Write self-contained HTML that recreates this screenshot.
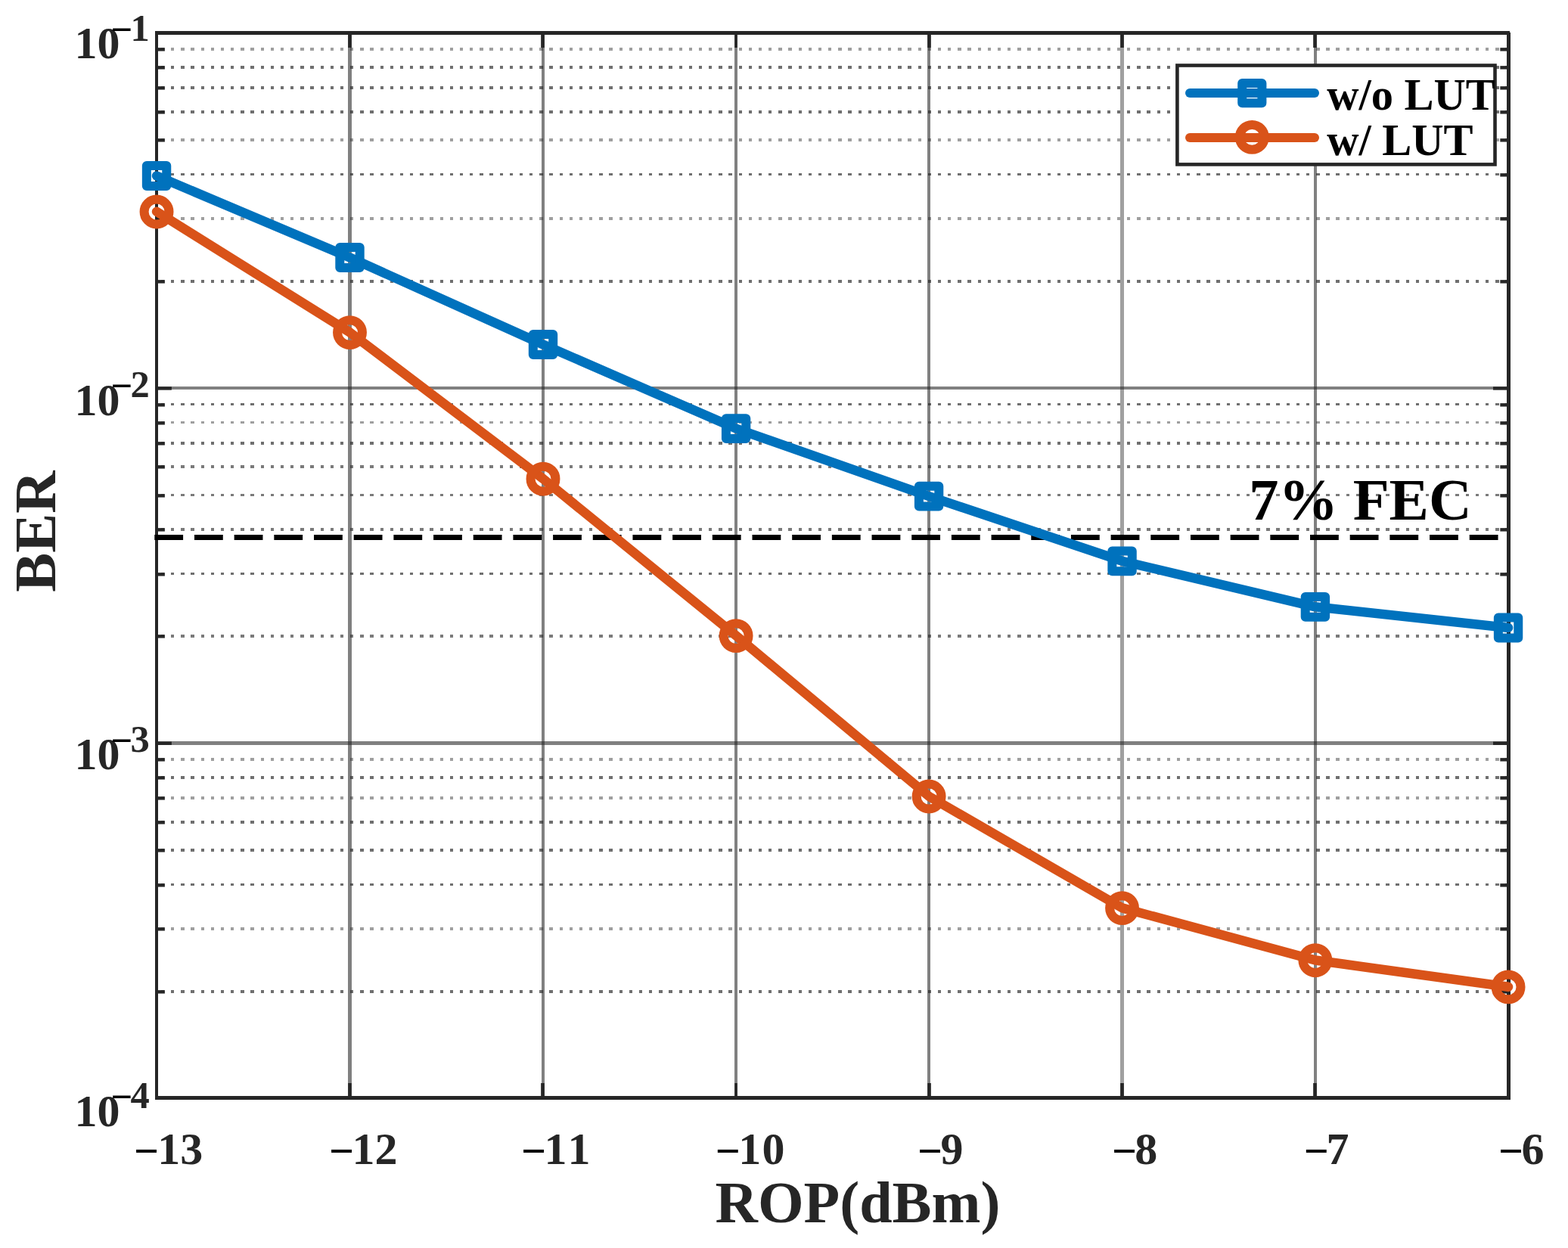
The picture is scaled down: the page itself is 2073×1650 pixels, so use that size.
<!DOCTYPE html>
<html lang="en"><head><meta charset="utf-8"><title>BER vs ROP</title>
<style>html,body{margin:0;padding:0;background:#fff;}body{width:2073px;height:1650px;overflow:hidden;}svg{display:block;}text{font-family:"Liberation Serif",serif;font-weight:bold;font-kerning:none;}.t{font-size:60px;fill:#262626;}.s{font-size:50.5px;fill:#262626;}.l{font-size:78px;fill:#262626;}.g{font-size:58.5px;fill:#000;}.f{font-size:78.5px;fill:#000;}.m{font-size:58px;fill:#000;}.n{font-size:50.5px;fill:#000;}</style></head><body>
<svg width="2073" height="1650" viewBox="0 0 2073 1650">
<rect width="2073" height="1650" fill="#fff"/>
<g shape-rendering="crispEdges" fill="#262626">
<rect x="460" y="44" width="5" height="1407" fill-opacity="0.585"/>
<rect x="716" y="44" width="4" height="1407" fill-opacity="0.585"/>
<rect x="971" y="44" width="4" height="1407" fill-opacity="0.585"/>
<rect x="1226" y="44" width="4" height="1407" fill-opacity="0.585"/>
<rect x="1481" y="44" width="5" height="1407" fill-opacity="0.438"/>
<rect x="1737" y="44" width="4" height="1407" fill-opacity="0.585"/>
<rect x="207" y="511" width="1787" height="4" fill-opacity="0.585"/>
<rect x="207" y="980" width="1787" height="5" fill-opacity="0.585"/>
</g>
<g fill="none" stroke="#262626" stroke-dasharray="4.39 8.776" shape-rendering="crispEdges">
<line x1="212.9" y1="65.0" x2="1994.5" y2="65.0" stroke-opacity="0.442" stroke-width="4"/>
<line x1="212.9" y1="89.0" x2="1994.5" y2="89.0" stroke-opacity="0.664" stroke-width="4"/>
<line x1="212.9" y1="116.0" x2="1994.5" y2="116.0" stroke-opacity="0.664" stroke-width="4"/>
<line x1="212.9" y1="148.0" x2="1994.5" y2="148.0" stroke-opacity="0.664" stroke-width="4"/>
<line x1="212.9" y1="185.0" x2="1994.5" y2="185.0" stroke-opacity="0.442" stroke-width="4"/>
<line x1="212.9" y1="230.5" x2="1994.5" y2="230.5" stroke-opacity="0.664" stroke-width="3"/>
<line x1="212.9" y1="289.0" x2="1994.5" y2="289.0" stroke-opacity="0.442" stroke-width="4"/>
<line x1="212.9" y1="372.0" x2="1994.5" y2="372.0" stroke-opacity="0.664" stroke-width="4"/>
<line x1="212.9" y1="534.5" x2="1994.5" y2="534.5" stroke-opacity="0.664" stroke-width="3"/>
<line x1="212.9" y1="558.5" x2="1994.5" y2="558.5" stroke-opacity="0.442" stroke-width="3"/>
<line x1="212.9" y1="586.0" x2="1994.5" y2="586.0" stroke-opacity="0.664" stroke-width="4"/>
<line x1="212.9" y1="617.0" x2="1994.5" y2="617.0" stroke-opacity="0.613" stroke-width="4"/>
<line x1="212.9" y1="654.5" x2="1994.5" y2="654.5" stroke-opacity="0.613" stroke-width="3"/>
<line x1="212.9" y1="700.0" x2="1994.5" y2="700.0" stroke-opacity="0.613" stroke-width="4"/>
<line x1="212.9" y1="758.5" x2="1994.5" y2="758.5" stroke-opacity="0.664" stroke-width="3"/>
<line x1="212.9" y1="841.0" x2="1994.5" y2="841.0" stroke-opacity="0.613" stroke-width="4"/>
<line x1="212.9" y1="1004.0" x2="1994.5" y2="1004.0" stroke-opacity="0.442" stroke-width="4"/>
<line x1="212.9" y1="1028.0" x2="1994.5" y2="1028.0" stroke-opacity="0.664" stroke-width="4"/>
<line x1="212.9" y1="1055.0" x2="1994.5" y2="1055.0" stroke-opacity="0.442" stroke-width="4"/>
<line x1="212.9" y1="1087.0" x2="1994.5" y2="1087.0" stroke-opacity="0.664" stroke-width="4"/>
<line x1="212.9" y1="1124.0" x2="1994.5" y2="1124.0" stroke-opacity="0.664" stroke-width="4"/>
<line x1="212.9" y1="1169.5" x2="1994.5" y2="1169.5" stroke-opacity="0.664" stroke-width="3"/>
<line x1="212.9" y1="1228.0" x2="1994.5" y2="1228.0" stroke-opacity="0.442" stroke-width="4"/>
<line x1="212.9" y1="1311.0" x2="1994.5" y2="1311.0" stroke-opacity="0.664" stroke-width="4"/>
</g>
<g fill="none" stroke="#262626" stroke-width="4.42">
<line x1="462.5" y1="1451.5" x2="462.5" y2="1432" stroke-width="4.7"/>
<line x1="462.5" y1="43.5" x2="462.5" y2="63" stroke-width="4.7"/>
<line x1="717.5" y1="1451.5" x2="717.5" y2="1432" stroke-width="4.7"/>
<line x1="717.5" y1="43.5" x2="717.5" y2="63" stroke-width="4.7"/>
<line x1="973.0" y1="1451.5" x2="973.0" y2="1432" stroke-width="3.7"/>
<line x1="973.0" y1="43.5" x2="973.0" y2="63" stroke-width="3.7"/>
<line x1="1228.5" y1="1451.5" x2="1228.5" y2="1432" stroke-width="4.7"/>
<line x1="1228.5" y1="43.5" x2="1228.5" y2="63" stroke-width="4.7"/>
<line x1="1483.5" y1="1451.5" x2="1483.5" y2="1432" stroke-width="4.7"/>
<line x1="1483.5" y1="43.5" x2="1483.5" y2="63" stroke-width="4.7"/>
<line x1="1738.5" y1="1451.5" x2="1738.5" y2="1432" stroke-width="4.7"/>
<line x1="1738.5" y1="43.5" x2="1738.5" y2="63" stroke-width="4.7"/>
<line x1="207.0" y1="513.45" x2="226.9" y2="513.45"/>
<line x1="1994.5" y1="513.45" x2="1974.0" y2="513.45"/>
<line x1="207.0" y1="982.75" x2="226.9" y2="982.75"/>
<line x1="1994.5" y1="982.75" x2="1974.0" y2="982.75"/>
<line x1="207.0" y1="65.35" x2="217.9" y2="65.35"/>
<line x1="1994.5" y1="65.35" x2="1983.3" y2="65.35"/>
<line x1="207.0" y1="89.35" x2="217.9" y2="89.35"/>
<line x1="1994.5" y1="89.35" x2="1983.3" y2="89.35"/>
<line x1="207.0" y1="116.35" x2="217.9" y2="116.35"/>
<line x1="1994.5" y1="116.35" x2="1983.3" y2="116.35"/>
<line x1="207.0" y1="148.35" x2="217.9" y2="148.35"/>
<line x1="1994.5" y1="148.35" x2="1983.3" y2="148.35"/>
<line x1="207.0" y1="185.35" x2="217.9" y2="185.35"/>
<line x1="1994.5" y1="185.35" x2="1983.3" y2="185.35"/>
<line x1="207.0" y1="231.35" x2="217.9" y2="231.35"/>
<line x1="1994.5" y1="231.35" x2="1983.3" y2="231.35"/>
<line x1="207.0" y1="289.35" x2="217.9" y2="289.35"/>
<line x1="1994.5" y1="289.35" x2="1983.3" y2="289.35"/>
<line x1="207.0" y1="372.35" x2="217.9" y2="372.35"/>
<line x1="1994.5" y1="372.35" x2="1983.3" y2="372.35"/>
<line x1="207.0" y1="535.35" x2="217.9" y2="535.35"/>
<line x1="1994.5" y1="535.35" x2="1983.3" y2="535.35"/>
<line x1="207.0" y1="559.35" x2="217.9" y2="559.35"/>
<line x1="1994.5" y1="559.35" x2="1983.3" y2="559.35"/>
<line x1="207.0" y1="586.35" x2="217.9" y2="586.35"/>
<line x1="1994.5" y1="586.35" x2="1983.3" y2="586.35"/>
<line x1="207.0" y1="617.35" x2="217.9" y2="617.35"/>
<line x1="1994.5" y1="617.35" x2="1983.3" y2="617.35"/>
<line x1="207.0" y1="655.35" x2="217.9" y2="655.35"/>
<line x1="1994.5" y1="655.35" x2="1983.3" y2="655.35"/>
<line x1="207.0" y1="700.35" x2="217.9" y2="700.35"/>
<line x1="1994.5" y1="700.35" x2="1983.3" y2="700.35"/>
<line x1="207.0" y1="759.35" x2="217.9" y2="759.35"/>
<line x1="1994.5" y1="759.35" x2="1983.3" y2="759.35"/>
<line x1="207.0" y1="841.35" x2="217.9" y2="841.35"/>
<line x1="1994.5" y1="841.35" x2="1983.3" y2="841.35"/>
<line x1="207.0" y1="1004.35" x2="217.9" y2="1004.35"/>
<line x1="1994.5" y1="1004.35" x2="1983.3" y2="1004.35"/>
<line x1="207.0" y1="1028.35" x2="217.9" y2="1028.35"/>
<line x1="1994.5" y1="1028.35" x2="1983.3" y2="1028.35"/>
<line x1="207.0" y1="1055.35" x2="217.9" y2="1055.35"/>
<line x1="1994.5" y1="1055.35" x2="1983.3" y2="1055.35"/>
<line x1="207.0" y1="1087.35" x2="217.9" y2="1087.35"/>
<line x1="1994.5" y1="1087.35" x2="1983.3" y2="1087.35"/>
<line x1="207.0" y1="1124.35" x2="217.9" y2="1124.35"/>
<line x1="1994.5" y1="1124.35" x2="1983.3" y2="1124.35"/>
<line x1="207.0" y1="1170.35" x2="217.9" y2="1170.35"/>
<line x1="1994.5" y1="1170.35" x2="1983.3" y2="1170.35"/>
<line x1="207.0" y1="1228.35" x2="217.9" y2="1228.35"/>
<line x1="1994.5" y1="1228.35" x2="1983.3" y2="1228.35"/>
<line x1="207.0" y1="1311.35" x2="217.9" y2="1311.35"/>
<line x1="1994.5" y1="1311.35" x2="1983.3" y2="1311.35"/>
</g>
<g fill="#262626" shape-rendering="crispEdges">
<rect x="205" y="41" width="1791" height="5"/>
<rect x="205" y="1449" width="1791" height="5"/>
<rect x="205" y="41" width="4" height="1413"/>
<rect x="1992" y="43" width="5" height="1411"/>
</g>
<line x1="204.3" y1="710.5" x2="1994.5" y2="710.5" stroke="#000" stroke-width="7" stroke-dasharray="37.8 14.88" fill="none"/>
<polyline points="207.05,232.50 462.50,340.50 718.00,455.50 973.10,566.60 1228.10,656.10 1483.55,741.80 1738.90,802.30 1994.05,830.00" fill="none" stroke="#0072BD" stroke-width="12.5" stroke-linejoin="round" stroke-linecap="round"/>
<g fill="none" stroke="#0072BD" stroke-width="12" stroke-linejoin="round">
<rect x="193.85" y="219.10" width="26.4" height="26.8"/>
<rect x="449.30" y="327.10" width="26.4" height="26.8"/>
<rect x="704.80" y="442.10" width="26.4" height="26.8"/>
<rect x="959.90" y="553.20" width="26.4" height="26.8"/>
<rect x="1214.90" y="642.70" width="26.4" height="26.8"/>
<rect x="1470.35" y="728.40" width="26.4" height="26.8"/>
<rect x="1725.70" y="788.90" width="26.4" height="26.8"/>
<rect x="1980.85" y="816.60" width="26.4" height="26.8"/>
</g>
<polyline points="207.05,279.80 462.50,439.40 718.00,633.00 973.10,840.40 1228.10,1052.80 1483.55,1200.40 1738.90,1269.50 1994.05,1304.70" fill="none" stroke="#D95319" stroke-width="12.5" stroke-linejoin="round" stroke-linecap="round"/>
<g fill="none" stroke="#D95319" stroke-width="12">
<circle cx="207.05" cy="280.00" r="16.45"/>
<circle cx="462.50" cy="439.60" r="16.45"/>
<circle cx="718.00" cy="633.20" r="16.45"/>
<circle cx="973.10" cy="840.60" r="16.45"/>
<circle cx="1228.10" cy="1053.00" r="16.45"/>
<circle cx="1483.55" cy="1200.60" r="16.45"/>
<circle cx="1738.90" cy="1269.70" r="16.45"/>
<circle cx="1994.05" cy="1304.90" r="16.45"/>
</g>
<rect x="1556.4" y="86.5" width="420.1" height="130.9" fill="#fff" stroke="#262626" stroke-width="4.60"/>
<line x1="1573" y1="123" x2="1738" y2="123" stroke="#0072BD" stroke-width="12" stroke-linecap="round"/>
<rect x="1642.2" y="110" width="26.2" height="26.2" fill="none" stroke="#0072BD" stroke-width="12" stroke-linejoin="round"/>
<line x1="1573" y1="181.9" x2="1738" y2="181.9" stroke="#D95319" stroke-width="12" stroke-linecap="round"/>
<circle cx="1655.3" cy="181.4" r="16.45" fill="none" stroke="#D95319" stroke-width="12"/>
<text class="g" x="1754.2" y="145">w/o LUT</text>
<text class="g" x="1754.2" y="205.2">w/ LUT</text>
<text class="f" x="1651.3" y="687">7% FEC</text>
<text class="t" y="1538.9"><tspan class="m" x="176.97" dy="2.3">−</tspan><tspan x="208.20" dy="-2.3">13</tspan></text>
<text class="t" y="1538.9"><tspan class="m" x="434.92" dy="2.3">−</tspan><tspan x="465.50" dy="-2.3">12</tspan></text>
<text class="t" y="1538.9"><tspan class="m" x="689.02" dy="2.3">−</tspan><tspan x="719.50" dy="-2.3" letter-spacing="1.0">11</tspan></text>
<text class="t" y="1538.9"><tspan class="m" x="945.82" dy="2.3">−</tspan><tspan x="976.20" dy="-2.3" letter-spacing="1.2">10</tspan></text>
<text class="t" y="1538.9"><tspan class="m" x="1213.02" dy="2.3">−</tspan><tspan x="1243.50" dy="-2.3">9</tspan></text>
<text class="t" y="1538.9"><tspan class="m" x="1470.02" dy="2.3">−</tspan><tspan x="1500.30" dy="-2.3">8</tspan></text>
<text class="t" y="1538.9"><tspan class="m" x="1723.82" dy="2.3">−</tspan><tspan x="1753.60" dy="-2.3">7</tspan></text>
<text class="t" y="1538.9"><tspan class="m" x="1981.02" dy="2.3">−</tspan><tspan x="2011.56" dy="-2.3">6</tspan></text>
<text class="t" x="98.6" y="76.97">10</text>
<text class="s" y="53.76"><tspan class="n" x="146.4" dy="1.90">−</tspan><tspan x="172.6" dy="-1.90">1</tspan></text>
<text class="t" x="98.6" y="549.30">10</text>
<text class="s" y="525.24"><tspan class="n" x="146.4" dy="1.65">−</tspan><tspan x="172.6" dy="-1.65">2</tspan></text>
<text class="t" x="98.6" y="1016.74">10</text>
<text class="s" y="993.63"><tspan class="n" x="146.4" dy="2.60">−</tspan><tspan x="172.6" dy="-2.60">3</tspan></text>
<text class="t" x="98.6" y="1488.87">10</text>
<text class="s" y="1464.76"><tspan class="n" x="146.4" dy="1.90">−</tspan><tspan x="172.6" dy="-1.90">4</tspan></text>
<text class="l" x="945.6" y="1615.6">ROP(dBm)</text>
<text class="l" transform="translate(73.1,782.7) rotate(-90)">BER</text>
</svg></body></html>
